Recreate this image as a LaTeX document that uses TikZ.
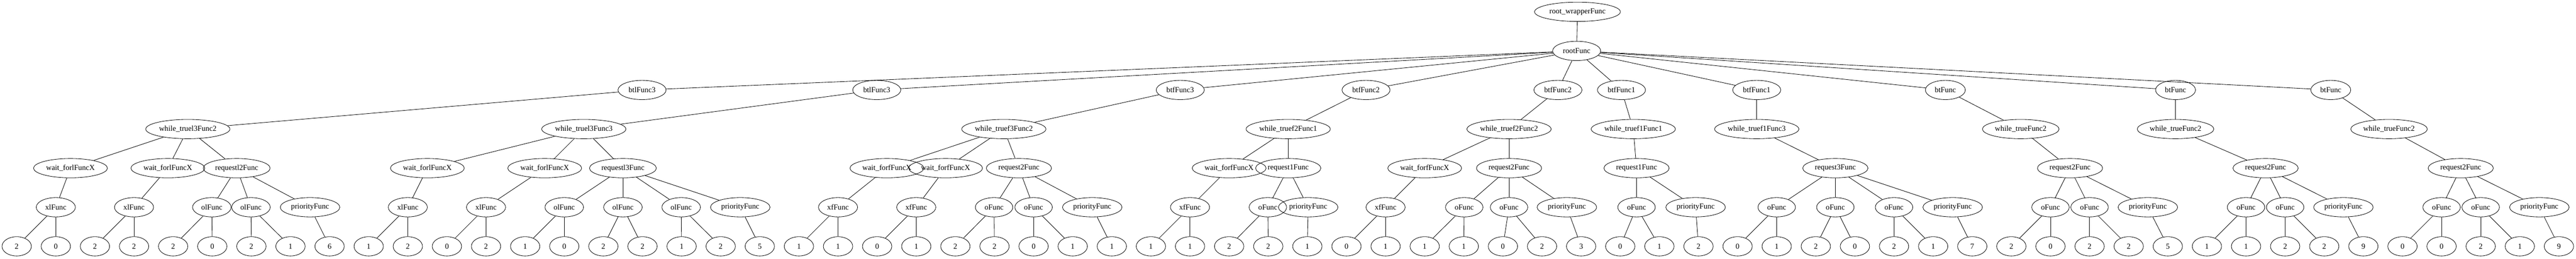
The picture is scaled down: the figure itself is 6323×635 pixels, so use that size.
\documentclass[tikz,border=0pt]{standalone}
\usepackage{fontspec}
\setmainfont{Liberation Serif}
\usetikzlibrary{shapes.geometric}
\usetikzlibrary{positioning}

\begin{document}
\begin{tikzpicture}[x=0.75pt,y=-0.75pt,node distance=72pt,thick,
	func node/.style={ellipse,draw,inner sep=0pt,minimum height=35.5pt,font=\fontsize{14}{16}\selectfont},
	leaf node/.style={func node,minimum width=54pt},
	root node/.style={func node,minimum width=158pt},
	top node/.style={func node,minimum width=88.5pt},
	bt node/.style={func node,minimum width=73.5pt},
	loop node/.style={func node,minimum width=155pt},
	wait node/.style={func node,minimum width=136pt},
	req node/.style={func node,minimum width=120pt},
	x node/.style={func node,minimum width=72pt},
	o node/.style={func node,minimum width=69pt},
	prio node/.style={func node,minimum width=109.5pt}]
	
	\useasboundingbox (0,0) rectangle (6323,635);
	
	\node[root node] (rw) at (3872,29) {root\_wrapperFunc};
	\node[top node] (rt) at (3870,125) {rootFunc};
	
	\node[top node] (b1) at (1576,221) {btlFunc3};
	\node[top node] (b2) at (2152,221) {btlFunc3};
	\node[top node] (b3) at (2897,221) {btfFunc3};
	\node[top node] (b4) at (3353,221) {btfFunc2};
	\node[top node] (b5) at (3824,221) {btfFunc2};
	\node[top node] (b6) at (3980,221) {btfFunc1};
	\node[top node] (b7) at (4312,221) {btfFunc1};
	\node[bt node] (b8) at (4775,221) {btFunc};
	\node[bt node] (b9) at (5340,221) {btFunc};
	\node[bt node] (b10) at (5721,221) {btFunc};
	
	\node[loop node] (w1) at (461,317) {while\_truel3Func2};
	\node[loop node] (w2) at (1433,317) {while\_truel3Func3};
	\node[loop node] (w3) at (2464,317) {while\_truef3Func2};
	\node[loop node] (w4) at (3162,317) {while\_truef2Func1};
	\node[loop node] (w5) at (3704,317) {while\_truef2Func2};
	\node[loop node] (w6) at (4009,317) {while\_truef1Func1};
	\node[loop node] (w7) at (4312,317) {while\_truef1Func3};
	\node[loop node,minimum width=141pt] (w8) at (4960,317) {while\_trueFunc2};
	\node[loop node,minimum width=141pt] (w9) at (5340,317) {while\_trueFunc2};
	\node[loop node,minimum width=141pt] (w10) at (5864,317) {while\_trueFunc2};
	
	\node[wait node] (a1) at (173,413) {wait\_forlFuncX};
	\node[wait node] (a2) at (412,413) {wait\_forlFuncX};
	\node[req node,minimum width=123pt] (r1) at (581,413) {requestl2Func};
	\node[wait node] (a3) at (1049,413) {wait\_forlFuncX};
	\node[wait node] (a4) at (1337,413) {wait\_forlFuncX};
	\node[req node,minimum width=123pt] (r2) at (1529,413) {requestl3Func};
	\node[wait node] (a5) at (2177,413) {wait\_forfFuncX};
	\node[wait node] (a6) at (2321,413) {wait\_forfFuncX};
	\node[req node] (r3) at (2501,413) {request2Func};
	\node[wait node] (a7) at (3017,413) {wait\_forfFuncX};
	\node[req node] (r4) at (3162,413) {request1Func};
	\node[wait node] (a8) at (3497,413) {wait\_forfFuncX};
	\node[req node] (r5) at (3704,413) {request2Func};
	\node[req node] (r6) at (4017,413) {request1Func};
	\node[req node] (r7) at (4505,413) {request3Func};
	\node[req node] (r8) at (5081,413) {request2Func};
	\node[req node] (r9) at (5561,413) {request2Func};
	\node[req node] (r10) at (6040,413) {request2Func};
	
	\node[x node] (x1) at (137,509) {xlFunc};
	\node[x node] (x2) at (329,509) {xlFunc};
	\node[o node,minimum width=71pt] (o1) at (520,509) {olFunc};
	\node[o node,minimum width=71pt] (o2) at (616,509) {olFunc};
	\node[prio node] (p1) at (761,509) {priorityFunc};
	\node[x node] (x3) at (1001,509) {xlFunc};
	\node[x node] (x4) at (1193,509) {xlFunc};
	\node[o node,minimum width=71pt] (o3) at (1385,509) {olFunc};
	\node[o node,minimum width=71pt] (o4) at (1529,509) {olFunc};
	\node[o node,minimum width=71pt] (o5) at (1672,509) {olFunc};
	\node[prio node] (p2) at (1817,509) {priorityFunc};
	\node[x node] (x5) at (2057,509) {xfFunc};
	\node[x node] (x6) at (2249,509) {xfFunc};
	\node[o node] (o6) at (2440,509) {oFunc};
	\node[o node] (o7) at (2537,509) {oFunc};
	\node[prio node] (p3) at (2681,509) {priorityFunc};
	\node[x node] (x7) at (2921,509) {xfFunc};
	\node[o node] (o8) at (3112,509) {oFunc};
	\node[prio node] (p4) at (3211,509) {priorityFunc};
	\node[x node] (x8) at (3401,509) {xfFunc};
	\node[o node] (o9) at (3594,509) {oFunc};
	\node[o node] (o10) at (3704,509) {oFunc};
	\node[prio node] (p5) at (3846,509) {priorityFunc};
	\node[o node] (o11) at (4017,509) {oFunc};
	\node[prio node] (p6) at (4162,509) {priorityFunc};
	\node[o node] (o12) at (4361,509) {oFunc};
	\node[o node] (o13) at (4505,509) {oFunc};
	\node[o node] (o14) at (4649,509) {oFunc};
	\node[prio node] (p7) at (4793,509) {priorityFunc};
	\node[o node] (o15) at (5033,509) {oFunc};
	\node[o node] (o16) at (5129,509) {oFunc};
	\node[prio node] (p8) at (5272,509) {priorityFunc};
	\node[o node] (o17) at (5513,509) {oFunc};
	\node[o node] (o18) at (5609,509) {oFunc};
	\node[prio node] (p9) at (5752,509) {priorityFunc};
	\node[o node] (o19) at (5993,509) {oFunc};
	\node[o node] (o20) at (6089,509) {oFunc};
	\node[prio node] (p10) at (6233,509) {priorityFunc};
	
	% leaves, one row
	\node[leaf node] (l0) at (41,605) {2};
	\node[leaf node] (l1) [right of=l0] {0};
	\node[leaf node] (l2) [right of=l1] {2};
	\node[leaf node] (l3) [right of=l2] {2};
	\node[leaf node] (l4) [right of=l3] {2};
	\node[leaf node] (l5) [right of=l4] {0};
	\node[leaf node] (l6) [right of=l5] {2};
	\node[leaf node] (l7) [right of=l6] {1};
	\node[leaf node] (l8) [right of=l7] {6};
	\node[leaf node] (l9) [right of=l8] {1};
	\node[leaf node] (l10) [right of=l9] {2};
	\node[leaf node] (l11) [right of=l10] {0};
	\node[leaf node] (l12) [right of=l11] {2};
	\node[leaf node] (l13) [right of=l12] {1};
	\node[leaf node] (l14) [right of=l13] {0};
	\node[leaf node] (l15) [right of=l14] {2};
	\node[leaf node] (l16) [right of=l15] {2};
	\node[leaf node] (l17) [right of=l16] {1};
	\node[leaf node] (l18) [right of=l17] {2};
	\node[leaf node] (l19) [right of=l18] {5};
	\node[leaf node] (l20) [right of=l19] {1};
	\node[leaf node] (l21) [right of=l20] {1};
	\node[leaf node] (l22) [right of=l21] {0};
	\node[leaf node] (l23) [right of=l22] {1};
	\node[leaf node] (l24) [right of=l23] {2};
	\node[leaf node] (l25) [right of=l24] {2};
	\node[leaf node] (l26) [right of=l25] {0};
	\node[leaf node] (l27) [right of=l26] {1};
	\node[leaf node] (l28) [right of=l27] {1};
	\node[leaf node] (l29) [right of=l28] {1};
	\node[leaf node] (l30) [right of=l29] {1};
	\node[leaf node] (l31) [right of=l30] {2};
	\node[leaf node] (l32) [right of=l31] {2};
	\node[leaf node] (l33) [right of=l32] {1};
	\node[leaf node] (l34) [right of=l33] {0};
	\node[leaf node] (l35) [right of=l34] {1};
	\node[leaf node] (l36) [right of=l35] {1};
	\node[leaf node] (l37) [right of=l36] {1};
	\node[leaf node] (l38) [right of=l37] {0};
	\node[leaf node] (l39) [right of=l38] {2};
	\node[leaf node] (l40) [right of=l39] {3};
	\node[leaf node] (l41) [right of=l40] {0};
	\node[leaf node] (l42) [right of=l41] {1};
	\node[leaf node] (l43) [right of=l42] {2};
	\node[leaf node] (l44) [right of=l43] {0};
	\node[leaf node] (l45) [right of=l44] {1};
	\node[leaf node] (l46) [right of=l45] {2};
	\node[leaf node] (l47) [right of=l46] {0};
	\node[leaf node] (l48) [right of=l47] {2};
	\node[leaf node] (l49) [right of=l48] {1};
	\node[leaf node] (l50) [right of=l49] {7};
	\node[leaf node] (l51) [right of=l50] {2};
	\node[leaf node] (l52) [right of=l51] {0};
	\node[leaf node] (l53) [right of=l52] {2};
	\node[leaf node] (l54) [right of=l53] {2};
	\node[leaf node] (l55) [right of=l54] {5};
	\node[leaf node] (l56) [right of=l55] {1};
	\node[leaf node] (l57) [right of=l56] {1};
	\node[leaf node] (l58) [right of=l57] {2};
	\node[leaf node] (l59) [right of=l58] {2};
	\node[leaf node] (l60) [right of=l59] {9};
	\node[leaf node] (l61) [right of=l60] {0};
	\node[leaf node] (l62) [right of=l61] {0};
	\node[leaf node] (l63) [right of=l62] {2};
	\node[leaf node] (l64) [right of=l63] {1};
	\node[leaf node] (l65) [right of=l64] {9};
	
	\path
	(rw) edge (rt)
	(rt) edge (b1) (rt) edge (b2) (rt) edge (b3) (rt) edge (b4) (rt) edge (b5)
	(rt) edge (b6) (rt) edge (b7) (rt) edge (b8) (rt) edge (b9) (rt) edge (b10)
	(b1) edge (w1) (b2) edge (w2) (b3) edge (w3) (b4) edge (w4) (b5) edge (w5)
	(b6) edge (w6) (b7) edge (w7) (b8) edge (w8) (b9) edge (w9) (b10) edge (w10)
	(w1) edge (a1) (w1) edge (a2) (w1) edge (r1)
	(w2) edge (a3) (w2) edge (a4) (w2) edge (r2)
	(w3) edge (a5) (w3) edge (a6) (w3) edge (r3)
	(w4) edge (a7) (w4) edge (r4)
	(w5) edge (a8) (w5) edge (r5)
	(w6) edge (r6) (w7) edge (r7) (w8) edge (r8) (w9) edge (r9) (w10) edge (r10)
	(a1) edge (x1) (a2) edge (x2) (a3) edge (x3) (a4) edge (x4)
	(a5) edge (x5) (a6) edge (x6) (a7) edge (x7) (a8) edge (x8)
	(r1) edge (o1) (r1) edge (o2) (r1) edge (p1)
	(r2) edge (o3) (r2) edge (o4) (r2) edge (o5) (r2) edge (p2)
	(r3) edge (o6) (r3) edge (o7) (r3) edge (p3)
	(r4) edge (o8) (r4) edge (p4)
	(r5) edge (o9) (r5) edge (o10) (r5) edge (p5)
	(r6) edge (o11) (r6) edge (p6)
	(r7) edge (o12) (r7) edge (o13) (r7) edge (o14) (r7) edge (p7)
	(r8) edge (o15) (r8) edge (o16) (r8) edge (p8)
	(r9) edge (o17) (r9) edge (o18) (r9) edge (p9)
	(r10) edge (o19) (r10) edge (o20) (r10) edge (p10)
	(x1) edge (l0) (x1) edge (l1) (x2) edge (l2) (x2) edge (l3)
	(o1) edge (l4) (o1) edge (l5) (o2) edge (l6) (o2) edge (l7) (p1) edge (l8)
	(x3) edge (l9) (x3) edge (l10) (x4) edge (l11) (x4) edge (l12)
	(o3) edge (l13) (o3) edge (l14) (o4) edge (l15) (o4) edge (l16)
	(o5) edge (l17) (o5) edge (l18) (p2) edge (l19)
	(x5) edge (l20) (x5) edge (l21) (x6) edge (l22) (x6) edge (l23)
	(o6) edge (l24) (o6) edge (l25) (o7) edge (l26) (o7) edge (l27) (p3) edge (l28)
	(x7) edge (l29) (x7) edge (l30) (o8) edge (l31) (o8) edge (l32) (p4) edge (l33)
	(x8) edge (l34) (x8) edge (l35) (o9) edge (l36) (o9) edge (l37)
	(o10) edge (l38) (o10) edge (l39) (p5) edge (l40)
	(o11) edge (l41) (o11) edge (l42) (p6) edge (l43)
	(o12) edge (l44) (o12) edge (l45) (o13) edge (l46) (o13) edge (l47)
	(o14) edge (l48) (o14) edge (l49) (p7) edge (l50)
	(o15) edge (l51) (o15) edge (l52) (o16) edge (l53) (o16) edge (l54) (p8) edge (l55)
	(o17) edge (l56) (o17) edge (l57) (o18) edge (l58) (o18) edge (l59) (p9) edge (l60)
	(o19) edge (l61) (o19) edge (l62) (o20) edge (l63) (o20) edge (l64) (p10) edge (l65);
\end{tikzpicture}
\end{document}
